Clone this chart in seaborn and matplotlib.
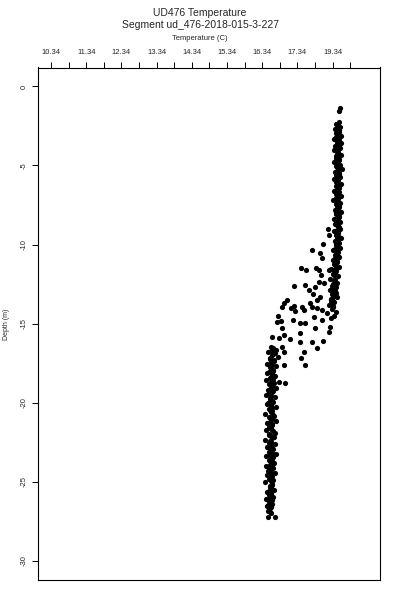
import numpy as np
import pandas as pd
from matplotlib import pyplot as plt
import seaborn as sns

sns.set_style('white')
plt.rcParams['font.family'] = ['Liberation Sans', 'DejaVu Sans']

# upper mixed layer column (temperature C, depth m)
upper_depth = [-1.34, -1.55, -2.27,
               -2.40, -2.55, -2.70, -2.85, -3.00, -3.15, -3.30, -3.45, -3.60, -3.75,
               -3.90, -4.05, -4.20, -4.35, -4.50, -4.65, -4.80, -4.95, -5.10, -5.25,
               -5.40, -5.55, -5.70, -5.85, -6.00, -6.15, -6.30, -6.45, -6.60, -6.75,
               -6.90, -7.05, -7.20, -7.35, -7.50, -7.65, -7.80, -7.95, -8.10, -8.25,
               -8.40, -8.55, -8.70, -8.85, -9.00, -9.15, -9.30, -9.45, -9.60, -9.75,
               -9.90, -10.05, -10.20, -10.35, -10.50, -10.65, -10.80, -10.95, -11.10, -11.25,
               -11.40, -11.55, -11.70, -11.85, -12.00, -12.15, -12.30, -12.45, -12.60, -12.75,
               -12.90, -13.05, -13.20, -13.35, -13.50, -13.65, -13.80, -13.95,
               -14.10, -14.30, -14.50, -14.65]
upper_temp = [18.55, 18.52, 18.52,
              18.44, 18.56, 18.40, 18.53, 18.47, 18.59, 18.38, 18.50, 18.57, 18.42,
              18.54, 18.39, 18.49, 18.58, 18.43, 18.52, 18.37, 18.55, 18.46, 18.60,
              18.41, 18.51, 18.56, 18.39, 18.48, 18.57, 18.43, 18.53, 18.38, 18.50,
              18.58, 18.44, 18.36, 18.55, 18.47, 18.52, 18.40, 18.59, 18.45, 18.51,
              18.37, 18.56, 18.42, 18.49, 18.54, 18.38, 18.50, 18.46, 18.57, 18.40,
              18.52, 18.43, 18.55, 18.36, 18.49, 18.41, 18.53, 18.34, 18.47, 18.39,
              18.51, 18.30, 18.45, 18.36, 18.50, 18.28, 18.42, 18.47, 18.33, 18.40,
              18.26, 18.44, 18.35, 18.48, 18.30, 18.38, 18.24, 18.36,
              18.33, 18.45, 18.38, 18.30]

# second pass through the upper column (casts interleave)
upper2_depth = [-2.47, -2.62, -2.77, -2.92, -3.07, -3.22, -3.37, -3.52, -3.67, -3.82,
                -3.97, -4.12, -4.27, -4.42, -4.57, -4.72, -4.87, -5.02, -5.17, -5.32,
                -5.47, -5.62, -5.77, -5.92, -6.07, -6.22, -6.37, -6.52, -6.67, -6.82,
                -6.97, -7.12, -7.27, -7.42, -7.57, -7.72, -7.87, -8.02, -8.17, -8.32,
                -8.47, -8.62, -8.77, -8.92, -9.07, -9.22, -9.37, -9.52, -9.67, -9.82,
                -9.97, -10.12, -10.27, -10.42, -10.57, -10.72, -10.87, -11.02, -11.17, -11.32,
                -11.47, -11.62, -11.77, -11.92, -12.07, -12.22, -12.37, -12.52, -12.67, -12.82,
                -12.97, -13.12, -13.27, -13.42, -13.57, -13.72, -13.87]
upper2_temp = [18.49, 18.47, 18.52, 18.45, 18.50, 18.44, 18.53, 18.46, 18.48, 18.51,
               18.45, 18.50, 18.47, 18.43, 18.52, 18.46, 18.49, 18.44, 18.51, 18.47,
               18.53, 18.45, 18.48, 18.50, 18.44, 18.49, 18.52, 18.46, 18.51, 18.45,
               18.48, 18.50, 18.47, 18.43, 18.52, 18.46, 18.49, 18.44, 18.51, 18.47,
               18.50, 18.45, 18.48, 18.53, 18.46, 18.49, 18.44, 18.51, 18.47, 18.50,
               18.45, 18.48, 18.42, 18.47, 18.44, 18.49, 18.41, 18.46, 18.43, 18.40,
               18.44, 18.38, 18.42, 18.39, 18.45, 18.37, 18.41, 18.36, 18.43, 18.35,
               18.40, 18.33, 18.38, 18.31, 18.36, 18.30, 18.34]

# thermocline scatter
mid_depth = [-9.04, -9.40, -9.99, -10.35, -10.52, -10.87, -11.51, -11.61, -11.61, -11.93,
             -11.49, -11.61, -12.63, -12.56, -12.88, -12.67, -12.46, -12.35, -13.13, -13.30,
             -13.72, -13.51, -13.89, -13.94, -13.72, -13.51, -13.94, -13.94, -14.00, -14.21,
             -14.00, -14.35, -14.15, -14.15, -14.53, -14.84, -14.90, -14.78, -14.57, -14.78,
             -15.20, -15.52, -14.99, -15.27, -14.99, -15.30, -15.62, -15.84, -15.94, -15.73,
             -16.00, -16.15, -16.15, -16.09, -16.57, -16.47, -16.78, -17.20, -17.63, -16.68,
             -16.78, -17.63, -18.78, -18.68]
mid_temp = [18.21, 18.25, 18.06, 17.77, 17.99, 18.04, 17.45, 17.58, 17.95, 18.00,
            17.87, 18.25, 17.24, 17.56, 17.66, 17.85, 18.09, 17.95, 17.78, 17.99,
            16.95, 17.04, 17.24, 17.47, 17.71, 17.90, 17.77, 16.90, 17.17, 17.28,
            17.90, 18.18, 18.04, 17.52, 16.79, 16.87, 16.76, 17.23, 17.80, 18.04,
            18.27, 18.23, 17.56, 17.85, 17.42, 16.90, 17.42, 16.62, 16.81, 16.95,
            17.14, 17.42, 17.75, 18.06, 17.90, 16.90, 17.52, 17.45, 17.55, 16.71,
            16.95, 16.95, 17.00, 16.81]

# lower layer column
lower_depth = [-16.50, -16.65, -16.80, -16.95, -17.10, -17.25, -17.40, -17.55, -17.70, -17.85,
               -18.00, -18.15, -18.30, -18.45, -18.60, -18.75, -18.90, -19.05, -19.20, -19.35,
               -19.50, -19.65, -19.80, -19.95, -20.10, -20.25, -20.40, -20.55, -20.70, -20.85,
               -21.00, -21.15, -21.30, -21.45, -21.60, -21.75, -21.90, -22.05, -22.20, -22.35,
               -22.50, -22.65, -22.80, -22.95, -23.10, -23.25, -23.40, -23.55, -23.70, -23.85,
               -24.00, -24.15, -24.30, -24.45, -24.60, -24.75, -24.90, -25.05, -25.20, -25.35,
               -25.50, -25.65, -25.80, -25.95, -26.10, -26.25, -26.40, -26.55, -26.70, -26.85,
               -27.00, -27.27, -27.23]
lower_temp = [16.60, 16.72, 16.50, 16.66, 16.78, 16.55, 16.69, 16.47, 16.74, 16.58,
              16.64, 16.49, 16.71, 16.56, 16.45, 16.68, 16.60, 16.73, 16.51, 16.63,
              16.44, 16.70, 16.57, 16.66, 16.48, 16.72, 16.53, 16.61, 16.43, 16.69,
              16.55, 16.74, 16.47, 16.63, 16.58, 16.45, 16.71, 16.52, 16.67, 16.42,
              16.60, 16.70, 16.49, 16.64, 16.54, 16.73, 16.46, 16.62, 16.57, 16.68,
              16.44, 16.65, 16.51, 16.70, 16.47, 16.59, 16.66, 16.43, 16.62, 16.55,
              16.69, 16.48, 16.58, 16.64, 16.45, 16.53, 16.61, 16.47, 16.57, 16.50,
              16.60, 16.71, 16.50]

lower2_depth = [-16.57, -16.72, -16.87, -17.02, -17.17, -17.32, -17.47, -17.62, -17.77, -17.92,
                -18.07, -18.22, -18.37, -18.52, -18.67, -18.82, -18.97, -19.12, -19.27, -19.42,
                -19.57, -19.72, -19.87, -20.02, -20.17, -20.32, -20.47, -20.62, -20.77, -20.92,
                -21.07, -21.22, -21.37, -21.52, -21.67, -21.82, -21.97, -22.12, -22.27, -22.42,
                -22.57, -22.72, -22.87, -23.02, -23.17, -23.32, -23.47, -23.62, -23.77, -23.92,
                -24.07, -24.22, -24.37, -24.52, -24.67, -24.82, -24.97, -25.12, -25.27, -25.42,
                -25.57, -25.72, -25.87, -26.02, -26.17, -26.32, -26.47, -26.62, -26.77, -26.92]
lower2_temp = [16.64, 16.58, 16.70, 16.61, 16.55, 16.67, 16.60, 16.63, 16.57, 16.66,
               16.53, 16.61, 16.58, 16.65, 16.59, 16.54, 16.62, 16.57, 16.66, 16.52,
               16.60, 16.56, 16.63, 16.51, 16.59, 16.62, 16.55, 16.58, 16.64, 16.52,
               16.61, 16.57, 16.63, 16.54, 16.60, 16.66, 16.53, 16.58, 16.62, 16.56,
               16.52, 16.59, 16.63, 16.55, 16.61, 16.57, 16.64, 16.53, 16.60, 16.56,
               16.62, 16.54, 16.59, 16.57, 16.63, 16.52, 16.58, 16.61, 16.55, 16.60,
               16.54, 16.59, 16.52, 16.57, 16.62, 16.55, 16.51, 16.58, 16.54, 16.56]

x_ticks = [10.34, 10.84, 11.34, 11.84, 12.34, 12.84, 13.34, 13.84, 14.34,
           14.84, 15.34, 15.84, 16.34, 16.84, 17.34, 17.84, 18.34, 18.84]
x_labels = ['10.34', '', '11.34', '', '12.34', '', '13.34', '', '14.34',
            '', '15.34', '', '16.34', '', '17.34', '', '19.34', '']
y_ticks = [0, -5, -10, -15, -20, -25, -30]

df = pd.DataFrame({
    'temp': upper_temp + upper2_temp + mid_temp + lower_temp + lower2_temp,
    'depth': upper_depth + upper2_depth + mid_depth + lower_depth + lower2_depth,
})

fig = plt.figure(figsize=(4, 6), dpi=100)
ax = fig.add_axes([0.096, 0.034, 0.855, 0.8535])
sns.scatterplot(data=df, x='temp', y='depth', color='black', s=14,
                linewidth=0, ax=ax, legend=False)

ax.set_xlim(9.98, 19.70)
ax.set_ylim(-31.2, 1.2)
ax.xaxis.tick_top()
ax.set_xticks(x_ticks)
ax.set_xticklabels(x_labels, fontsize=5.5)
ax.set_yticks(y_ticks)
ax.set_yticklabels([str(v) for v in y_ticks], fontsize=5.5, rotation=90, va='center')
ax.tick_params(axis='both', direction='out', length=4, width=0.7, color='black')
ax.tick_params(axis='x', top=True, bottom=False, pad=4)
ax.tick_params(axis='y', left=True, pad=3.5)
ax.set_xlabel('')
ax.set_ylabel('')
for sp in ax.spines.values():
    sp.set_color('black')
    sp.set_linewidth(0.8)

fig.text(0.5, 1 - 12.5 / 600, 'UD476 Temperature', ha='center', va='center', fontsize=7.5)
fig.text(0.5, 1 - 25.5 / 600, 'Segment ud_476-2018-015-3-227', ha='center', va='center', fontsize=7.5)
fig.text(0.5, 1 - 38 / 600, 'Temperature (C)', ha='center', va='center', fontsize=5.5)
fig.text(7 / 400, 1 - 324 / 600, 'Depth (m)', ha='center', va='center', fontsize=5, rotation=90)

plt.savefig('out.png', dpi=100)
